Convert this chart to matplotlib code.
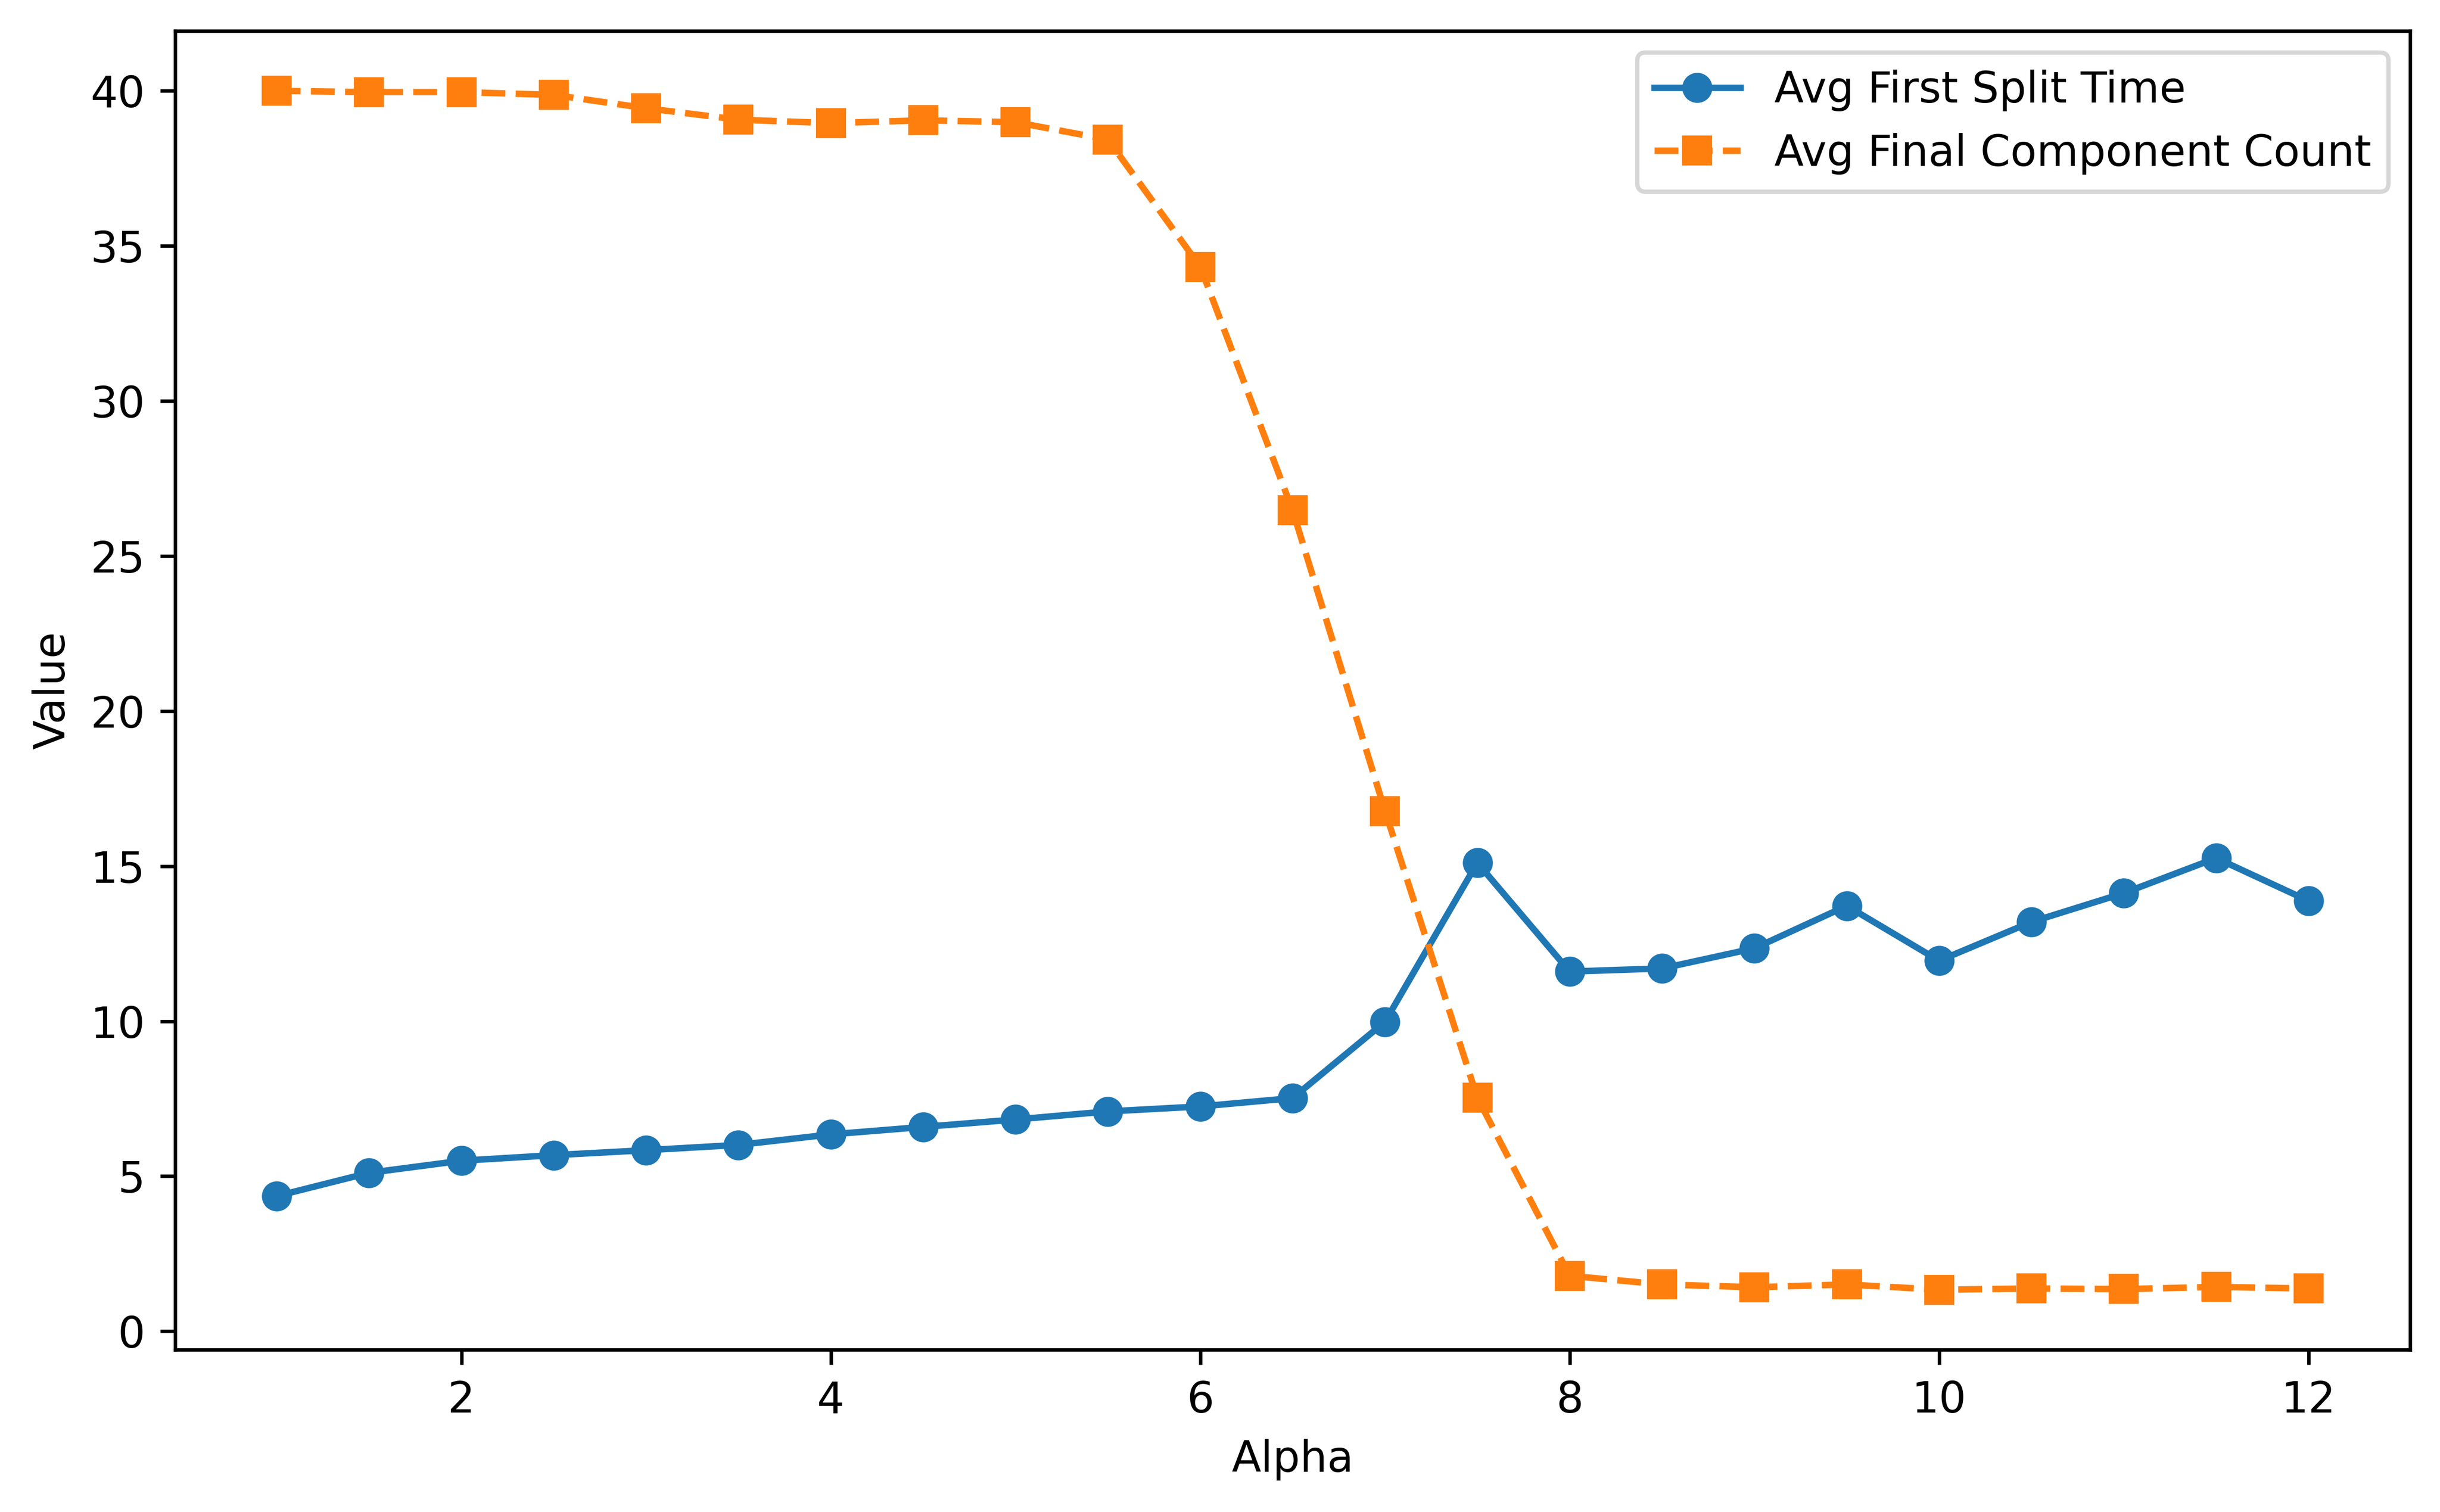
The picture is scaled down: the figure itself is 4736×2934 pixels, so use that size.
import numpy as np
import matplotlib
matplotlib.use("Agg")
import matplotlib.pyplot as plt

# alpha values on x axis
alpha = [1, 1.5, 2, 2.5, 3, 3.5, 4, 4.5, 5, 5.5, 6, 6.5,
         7, 7.5, 8, 8.5, 9, 9.5, 10, 10.5, 11, 11.5, 12]

# average time of the first split
avg_first_split = [4.36, 5.11, 5.50, 5.68, 5.84, 6.01, 6.35, 6.59, 6.83, 7.09, 7.25, 7.52,
                   9.98, 15.11, 11.60, 11.70, 12.35, 13.72, 11.95, 13.20, 14.13, 15.26, 13.88]

# average number of components at the end
avg_final_count = [40.0, 39.96, 39.96, 39.87, 39.44, 39.07, 38.96, 39.05, 38.99, 38.43, 34.33, 26.47,
                   16.78, 7.53, 1.79, 1.51, 1.42, 1.51, 1.34, 1.38, 1.36, 1.43, 1.38]

fig = plt.figure(figsize=(4736 / 600, 2934 / 600), dpi=600)
ax = fig.add_subplot(1, 1, 1)
fig.subplots_adjust(left=340 / 4736, right=4678 / 4736, top=1 - 60 / 2934, bottom=1 - 2619 / 2934)

ax.plot(alpha, avg_first_split, 'o-', label='Avg First Split Time')
ax.plot(alpha, avg_final_count, 's--', label='Avg Final Component Count')

ax.set_xlabel("Alpha")
ax.set_ylabel("Value")
ax.legend(loc='upper right')

fig.savefig("out.png", dpi=600)
